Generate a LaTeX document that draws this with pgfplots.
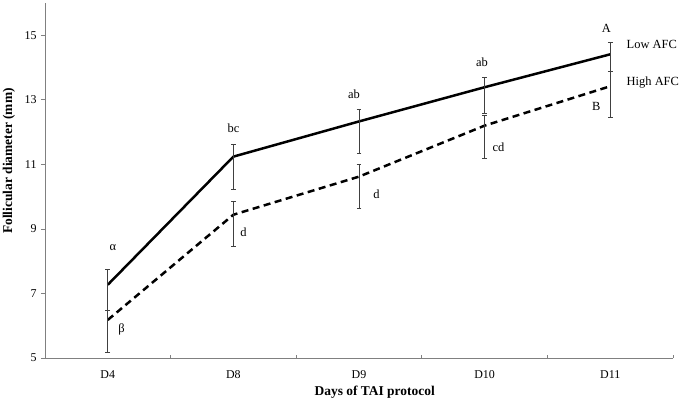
\documentclass[border=0pt]{standalone}
\usepackage{pgfplots}
\pgfplotsset{compat=1.18}
\usepackage{fontspec}
\setmainfont{Liberation Serif}
\begin{document}
\begin{tikzpicture}[x=1bp,y=1bp]
\begin{axis}[
  scale only axis,
  width=628bp, height=355bp,
  xmin=-0.5, xmax=4.5, ymin=5, ymax=16,
  axis lines=left,
  axis line style={-, draw=black!50, line width=1pt},
  xtick={0,1,2,3,4},
  xticklabels={D4,D8,D9,D10,D11},
  minor xtick={-0.5,0.5,1.5,2.5,3.5,4.5},
  ytick={5,7,9,11,13,15},
  tick align=outside,
  major x tick style={draw=none},
  minor x tick style={draw=black!50, line width=0.8pt, yshift=3bp},
  minor tick length=3bp,
  major tick length=4bp,
  y tick style={draw=black!50, line width=0.8pt},
  /pgf/number format/assume math mode=true,
  tick label style={font=\fontsize{12}{14}\selectfont},
  xticklabel style={yshift=-5bp},
  yticklabel style={xshift=-1bp},
  xlabel={\textbf{Days of TAI protocol}},
  label style={font=\fontsize{13.5}{15}\selectfont},
  xlabel style={at={(ticklabel cs:0.525)}, yshift=-1bp},
  clip=false,
  error bars/error bar style={solid, line width=0.7pt, draw=black!75},
  error bars/error mark=-,
  error bars/error mark options={solid, rotate=90, line width=0.7pt, draw=black!75, mark size=2.4bp},
]
\coordinate (ll) at (rel axis cs:0,0);
\coordinate (ur) at (rel axis cs:1,1);
% Low AFC
\addplot[black, line width=2.5pt, no markers,
  error bars/.cd, y dir=both, y explicit]
  coordinates {
  (0,7.27)  += (0,0.49) -= (0,0.78)
  (1,11.24) += (0,0.37) -= (0,1.02)
  (2,12.33) += (0,0.37) -= (0,0.99)
  (3,13.39) += (0,0.31) -= (0,0.81)
  (4,14.41) += (0,0.37) -= (0,0.53)
  };
% High AFC
\addplot[black, line width=2.5pt, no markers, dash pattern=on 7bp off 4.5bp,
  error bars/.cd, y dir=both, y explicit]
  coordinates {
  (0,6.18)  += (0,0.31) -= (0,1.00)
  (1,9.44)  += (0,0.40) -= (0,0.99)
  (2,10.62) += (0,0.37) -= (0,0.99)
  (3,12.20) += (0,0.32) -= (0,1.02)
  (4,13.42) += (0,0.46) -= (0,0.97)
  };
\begin{scope}[every node/.style={font=\fontsize{12.5}{14}\selectfont, inner sep=0pt}]
\node at (axis cs:0.04,8.41) {α};
\node at (axis cs:0.11,5.87) {β};
\node at (axis cs:1.0,12.13) {bc};
\node at (axis cs:1.08,8.9) {d};
\node at (axis cs:1.96,13.18) {ab};
\node at (axis cs:2.14,10.08) {d};
\node at (axis cs:2.98,14.17) {ab};
\node at (axis cs:3.11,11.54) {cd};
\node at (axis cs:3.97,15.2) {A};
\node at (axis cs:3.89,12.81) {B};
\node[anchor=west] at (axis cs:4.13,14.73) {Low AFC};
\node[anchor=west] at (axis cs:4.13,13.55) {High AFC};
\end{scope}
\node[rotate=90, font=\fontsize{13.5}{15}\selectfont\bfseries] at ([xshift=-36bp]rel axis cs:0,0.555) {Follicular diameter (mm)};
\end{axis}
\pgfresetboundingbox
\path[use as bounding box] ([xshift=-45bp,yshift=-45bp]ll) rectangle ([xshift=12bp,yshift=3bp]ur);
\end{tikzpicture}
\end{document}
